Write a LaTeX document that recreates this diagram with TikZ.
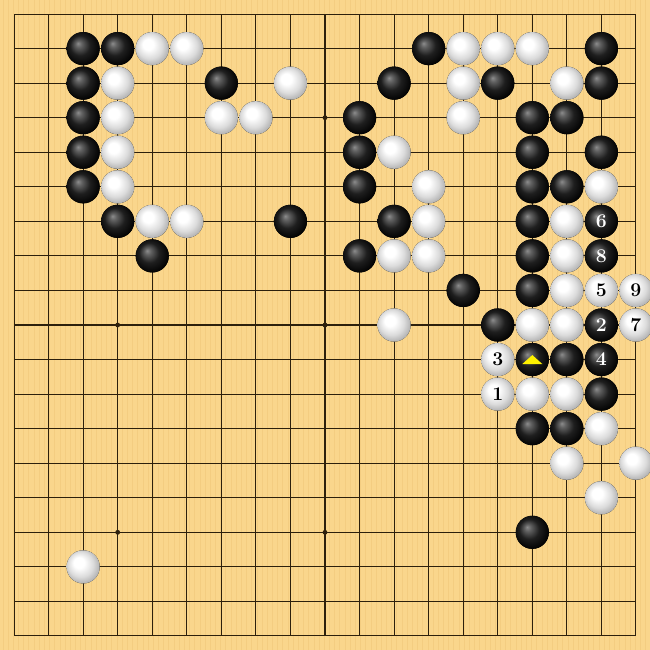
\documentclass[tikz,border=0pt]{standalone}
\usepackage{tikz}
\usetikzlibrary{positioning}
\usepackage{xcolor}

\definecolor{boardwood}{RGB}{250,214,140}
\definecolor{woodgrain}{RGB}{240,200,122}
\definecolor{gridbrown}{RGB}{45,32,12}

\pgfdeclareradialshading{whitestoneshade}{\pgfpoint{-8bp}{8bp}}{%
color(0bp)=(white); color(8bp)=(white); color(19bp)=(black!14);
color(29bp)=(black!34); color(37bp)=(black!45)}
\pgfdeclareradialshading{blackstoneshade}{\pgfpoint{-8bp}{8bp}}{%
color(0bp)=(black!45); color(5bp)=(black!62); color(15bp)=(black!88);
color(28bp)=(black); color(37bp)=(black)}

\tikzset{
gridline/.style={gridbrown, line width=0.85pt},
blackstone/.style={shading=blackstoneshade},
whitestone/.style={shading=whitestoneshade},
onblack/.style={white, font=\fontsize{16}{16}\selectfont\bfseries},
onwhite/.style={black, font=\fontsize{16}{16}\selectfont\bfseries}
}

\begin{document}
\begin{tikzpicture}[x=1cm, y=-1cm]

\useasboundingbox (0.5935,0.5935) rectangle (19.4065,19.4065);

%board
\fill[boardwood] (0.5935,0.5935) rectangle (19.4065,19.4065);
\foreach \s in {0.68,0.83,...,19.4} \draw[woodgrain, line width=0.7pt, opacity=0.6] (\s,0.5935)--(\s,19.4065);

%Horizontal and vertical lines
\foreach \i in {1,...,19} {
\draw[gridline] (1,\i)--(19,\i);
\draw[gridline] (\i,1)--(\i,19);
}
\draw[gridline, line cap=rect] (1,1) rectangle (19,19);

%star points
\foreach \x in {4,10,16} \foreach \y in {4,10,16} \fill[gridbrown] (\x,\y) circle (0.07);

%black stones
{
%row 2
\foreach \x in {3,4,13,18} \fill[blackstone] (\x,2) circle (0.48);
%row 3
\foreach \x in {3,7,12,15,18} \fill[blackstone] (\x,3) circle (0.48);
%row 4
\foreach \x in {3,11,16,17} \fill[blackstone] (\x,4) circle (0.48);
%row 5
\foreach \x in {3,11,16,18} \fill[blackstone] (\x,5) circle (0.48);
%row 6
\foreach \x in {3,11,16,17} \fill[blackstone] (\x,6) circle (0.48);
%row 7
\foreach \x in {4,9,12,16,18} \fill[blackstone] (\x,7) circle (0.48);
%row 8
\foreach \x in {5,11,16,18} \fill[blackstone] (\x,8) circle (0.48);
%row 9
\foreach \x in {14,16} \fill[blackstone] (\x,9) circle (0.48);
%row 10
\foreach \x in {15,18} \fill[blackstone] (\x,10) circle (0.48);
%row 11
\foreach \x in {16,17,18} \fill[blackstone] (\x,11) circle (0.48);
%row 12
\foreach \x in {18} \fill[blackstone] (\x,12) circle (0.48);
%row 13
\foreach \x in {16,17} \fill[blackstone] (\x,13) circle (0.48);
%row 16
\foreach \x in {16} \fill[blackstone] (\x,16) circle (0.48);
}

%white stones
{
%row 2
\foreach \x in {5,6,14,15,16} \fill[whitestone] (\x,2) circle (0.48);
%row 3
\foreach \x in {4,9,14,17} \fill[whitestone] (\x,3) circle (0.48);
%row 4
\foreach \x in {4,7,8,14} \fill[whitestone] (\x,4) circle (0.48);
%row 5
\foreach \x in {4,12} \fill[whitestone] (\x,5) circle (0.48);
%row 6
\foreach \x in {4,13,18} \fill[whitestone] (\x,6) circle (0.48);
%row 7
\foreach \x in {5,6,13,17} \fill[whitestone] (\x,7) circle (0.48);
%row 8
\foreach \x in {12,13,17} \fill[whitestone] (\x,8) circle (0.48);
%row 9
\foreach \x in {17,18,19} \fill[whitestone] (\x,9) circle (0.48);
%row 10
\foreach \x in {12,16,17,19} \fill[whitestone] (\x,10) circle (0.48);
%row 11
\foreach \x in {15} \fill[whitestone] (\x,11) circle (0.48);
%row 12
\foreach \x in {15,16,17} \fill[whitestone] (\x,12) circle (0.48);
%row 13
\foreach \x in {18} \fill[whitestone] (\x,13) circle (0.48);
%row 14
\foreach \x in {17,19} \fill[whitestone] (\x,14) circle (0.48);
%row 15
\foreach \x in {18} \fill[whitestone] (\x,15) circle (0.48);
%row 17
\foreach \x in {3} \fill[whitestone] (\x,17) circle (0.48);
}

%move numbers
\node[onwhite] (move1) at (15,12) {1};
\node[onblack] (move2) at (18,10) {2};
\node[onwhite] (move3) at (15,11) {3};
\node[onblack] (move4) at (18,11) {4};
\node[onwhite] (move5) at (18,9) {5};
\node[onblack] (move6) at (18,7) {6};
\node[onwhite] (move7) at (19,10) {7};
\node[onblack] (move8) at (18,8) {8};
\node[onwhite] (move9) at (19,9) {9};

%marked stone
\fill[yellow] (15.71,11.13)--(16.29,11.13)--(16,10.87)--cycle;

\end{tikzpicture}
\end{document}
